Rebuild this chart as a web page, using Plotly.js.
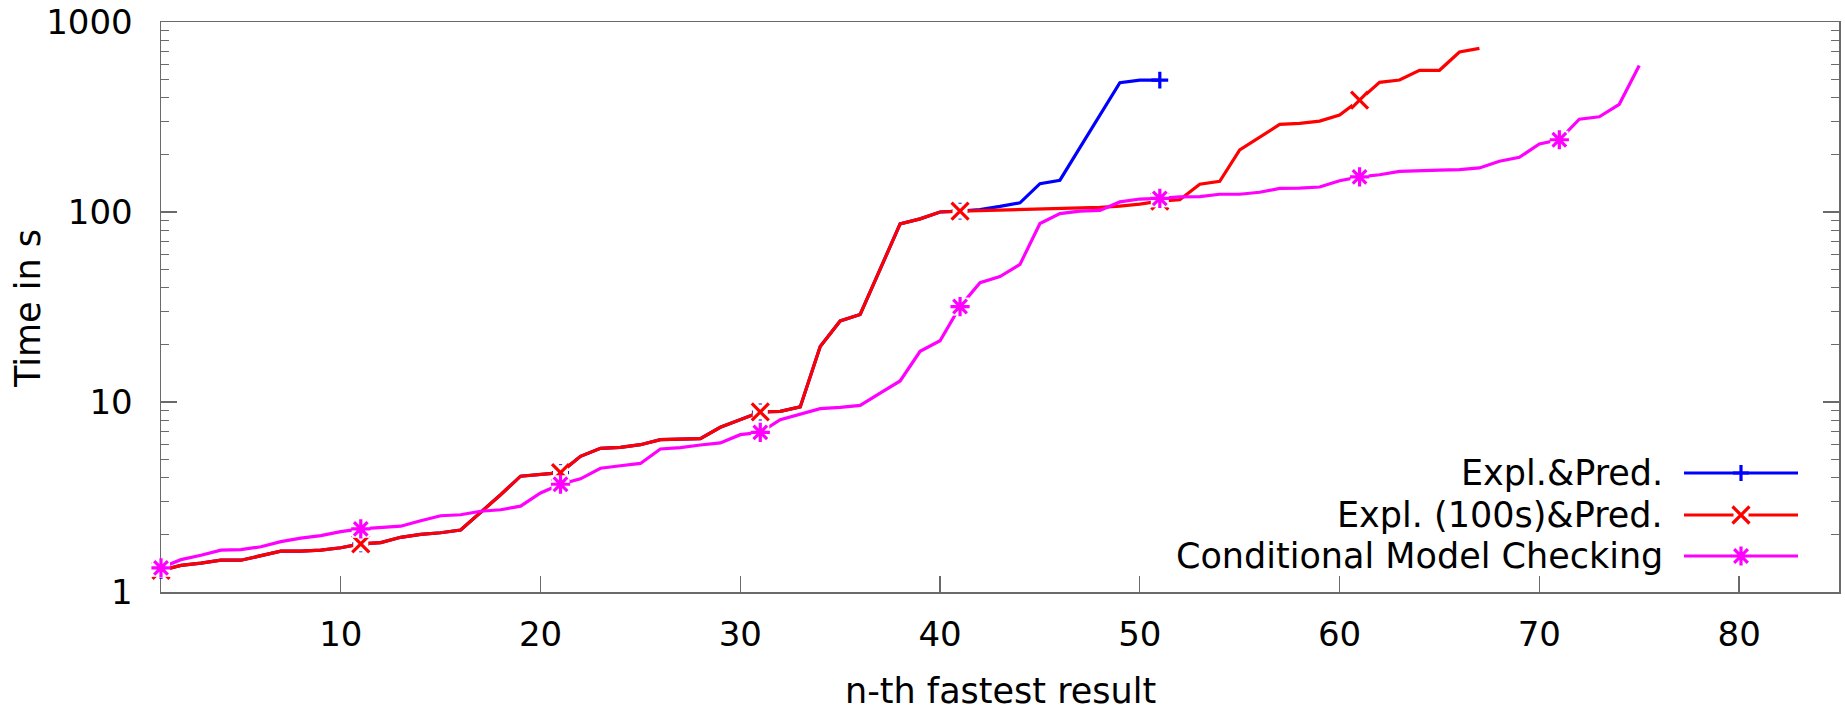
<!DOCTYPE html>
<html><head><meta charset="utf-8">
<script src="https://cdn.plot.ly/plotly-3.0.1.min.js"></script>
<style>html,body{margin:0;padding:0;background:#fff;} #chart{width:1845px;height:712px;}</style>
</head><body><div id="chart"></div>
<script>
// ---------------- data ----------------
const seriesNames = ["Expl.&Pred.", "Expl. (100s)&Pred.", "Conditional Model Checking"];
const xTitle = "n-th fastest result";
const yTitle = "Time in s";

const explPred = [1.30, 1.38, 1.42, 1.47, 1.47, 1.56, 1.64, 1.64, 1.66, 1.71,
  1.79, 1.82, 1.94, 2.01, 2.05, 2.12, 2.62, 3.25, 4.07, 4.17,
  4.25, 5.18, 5.70, 5.77, 5.96, 6.34, 6.36, 6.41, 7.36, 8.07,
  8.86, 8.93, 9.42, 19.6, 26.7, 28.9, 50, 86.5, 92, 100,
  101, 103, 107, 111.8, 141, 147, 218, 323, 479, 494,
  494];

const expl100Pred = [1.30, 1.38, 1.42, 1.47, 1.47, 1.56, 1.64, 1.64, 1.66, 1.71,
  1.79, 1.82, 1.94, 2.01, 2.05, 2.12, 2.62, 3.25, 4.07, 4.17,
  4.25, 5.18, 5.70, 5.77, 5.96, 6.34, 6.36, 6.41, 7.36, 8.07,
  8.86, 8.93, 9.42, 19.6, 26.7, 28.9, 50, 86.5, 92, 100,
  101, 101.6, 102, 103, 103.7, 104, 105, 105.8, 107.5, 110,
  114, 116, 140, 145, 212, 247, 289, 293, 301, 324,
  388, 481, 495, 557, 557, 695, 726];

const condMC = [1.34, 1.48, 1.56, 1.66, 1.67, 1.73, 1.84, 1.92, 1.98, 2.08,
  2.15, 2.19, 2.22, 2.37, 2.52, 2.55, 2.66, 2.71, 2.83, 3.32,
  3.69, 3.94, 4.48, 4.62, 4.75, 5.66, 5.75, 5.94, 6.09, 6.73,
  6.92, 8.07, 8.65, 9.22, 9.37, 9.6, 11.15, 12.9, 18.5, 21,
  31.8, 42.5, 45.7, 53, 87, 98, 101, 102, 113, 117,
  118, 120, 120.4, 124, 124, 127, 133, 133.5, 135.4, 146,
  153, 157, 163.6, 165.6, 166, 167, 170.6, 185, 194, 228,
  240, 308, 317, 369, 591];

const xTickVals = [10, 20, 30, 40, 50, 60, 70, 80];
const yTickVals = [1, 10, 100, 1000];
const yTickText = ["1", "10", "100", "1000"];
const yMinorVals = [2, 3, 4, 5, 6, 7, 8, 9, 20, 30, 40, 50, 60, 70, 80, 90, 200, 300, 400, 500, 600, 700, 800, 900];

// ---------------- style ----------------
const FONT = "DejaVu Sans, Verdana, sans-serif";
const FS_TICK = 34;
const FS_TEXT = 35;
const AXC = "#6a6a6a";
const LW = 3.2;
const styles = [
  {color: "#0000ff", symbol: "cross-thin", size: 12, box: 0},
  {color: "#ff0000", symbol: "x-thin", size: 17, box: 15},
  {color: "#ff00ff", symbol: "asterisk", size: 16, box: 18}
];
const allSeries = [explPred, expl100Pred, condMC];
const POINT_EVERY = 10;

const W = 1845, H = 712;
const M = {l: 161, r: 6, t: 22, b: 120};
const plotW = W - M.l - M.r, plotH = H - M.t - M.b;

const traces = [];
allSeries.forEach((ys, k) => {
  const st = styles[k];
  const xs = ys.map((_, i) => i + 1);
  const px = xs.filter((_, i) => i % POINT_EVERY === 0);
  const py = ys.filter((_, i) => i % POINT_EVERY === 0);
  traces.push({type: "scatter", mode: "lines", x: xs, y: ys, name: seriesNames[k],
    line: {color: st.color, width: LW}, showlegend: false, hoverinfo: "skip"});
  if (st.box > 0) {
    traces.push({type: "scatter", mode: "markers", x: px, y: py, showlegend: false, hoverinfo: "skip",
      cliponaxis: false,
      marker: {symbol: "square", size: st.box, color: "#ffffff", line: {width: 0}}});
  }
  traces.push({type: "scatter", mode: "markers", x: px, y: py, showlegend: false, hoverinfo: "skip",
    cliponaxis: false,
    marker: {symbol: st.symbol, size: st.size, color: st.color, line: {color: st.color, width: LW}}});
});

// ---------------- titles and gnuplot-like key ----------------
const key = {textRight: 1665, lineX0: 1684, lineX1: 1798, markX: 1741, rows: [473, 515, 556]};
const toPX = v => (v - M.l) / plotW;
const toPY = v => (H - M.b - v) / plotH;
const annotations = [
  {xref: "paper", yref: "paper", x: 0.5, y: toPY(691), xanchor: "center", yanchor: "middle",
   text: xTitle, showarrow: false, font: {family: FONT, size: FS_TEXT, color: "#000"}},
  {xref: "paper", yref: "paper", x: toPX(28), y: toPY(309), xanchor: "center", yanchor: "middle",
   textangle: -90, text: yTitle, showarrow: false, font: {family: FONT, size: FS_TEXT, color: "#000"}}
];
const shapes = [];
const glyph = {
  "cross-thin": h => `M0,${-h}L0,${h}M${-h},0L${h},0`,
  "x-thin": h => `M${-h},${-h}L${h},${h}M${-h},${h}L${h},${-h}`,
  "asterisk": h => `M0,${-h}L0,${h}M${-h},0L${h},0M${-0.72*h},${-0.72*h}L${0.72*h},${0.72*h}M${-0.72*h},${0.72*h}L${0.72*h},${-0.72*h}`
};
seriesNames.forEach((nm, k) => {
  const st = styles[k];
  const ry = key.rows[k];
  annotations.push({xref: "paper", yref: "paper", x: toPX(key.textRight), y: toPY(ry),
    xanchor: "right", yanchor: "middle", text: nm, showarrow: false,
    font: {family: FONT, size: FS_TEXT, color: "#000"}});
  shapes.push({type: "line", xref: "paper", yref: "paper", x0: toPX(key.lineX0), x1: toPX(key.lineX1),
    y0: toPY(ry), y1: toPY(ry), line: {color: st.color, width: LW}});
  const half = st.symbol === "cross-thin" ? 8 : (st.symbol === "x-thin" ? 8.5 : 9.5);
  if (st.box > 0) {
    shapes.push({type: "rect", xref: "paper", yref: "paper", xsizemode: "pixel", ysizemode: "pixel",
      xanchor: toPX(key.markX), yanchor: toPY(ry), x0: -st.box/2, x1: st.box/2, y0: -st.box/2, y1: st.box/2,
      fillcolor: "#ffffff", line: {width: 0}});
  }
  shapes.push({type: "path", xref: "paper", yref: "paper", xsizemode: "pixel", ysizemode: "pixel",
    xanchor: toPX(key.markX), yanchor: toPY(ry), path: glyph[st.symbol](half),
    line: {color: st.color, width: LW}});
});

const layout = {
  width: W, height: H,
  margin: M,
  paper_bgcolor: "#ffffff", plot_bgcolor: "#ffffff",
  showlegend: false,
  hovermode: false,
  font: {family: FONT, size: FS_TICK, color: "#000"},
  xaxis: {
    range: [1, 85], tickmode: "array", tickvals: xTickVals,
    ticks: "inside", ticklen: 16, tickwidth: 1.3, tickcolor: AXC,
    showline: true, linecolor: AXC, linewidth: 1.5, mirror: true,
    showgrid: false, zeroline: false, layer: "below traces",
    ticklabelstandoff: 12,
    tickfont: {family: FONT, size: FS_TICK, color: "#000"}
  },
  yaxis: {
    type: "log", range: [0, 3], tickmode: "array", tickvals: yTickVals, ticktext: yTickText,
    ticks: "inside", ticklen: 16, tickwidth: 1.3, tickcolor: AXC,
    minor: {tickmode: "array", tickvals: yMinorVals, ticks: "inside", ticklen: 8, tickwidth: 1.3, tickcolor: AXC, showgrid: false},
    showline: true, linecolor: AXC, linewidth: 1.5, mirror: "ticks",
    showgrid: false, zeroline: false, layer: "below traces",
    ticklabelstandoff: 20,
    tickfont: {family: FONT, size: FS_TICK, color: "#000"}
  },
  annotations: annotations,
  shapes: shapes
};

Plotly.newPlot("chart", traces, layout, {displayModeBar: false, staticPlot: true});
</script>
</body></html>
